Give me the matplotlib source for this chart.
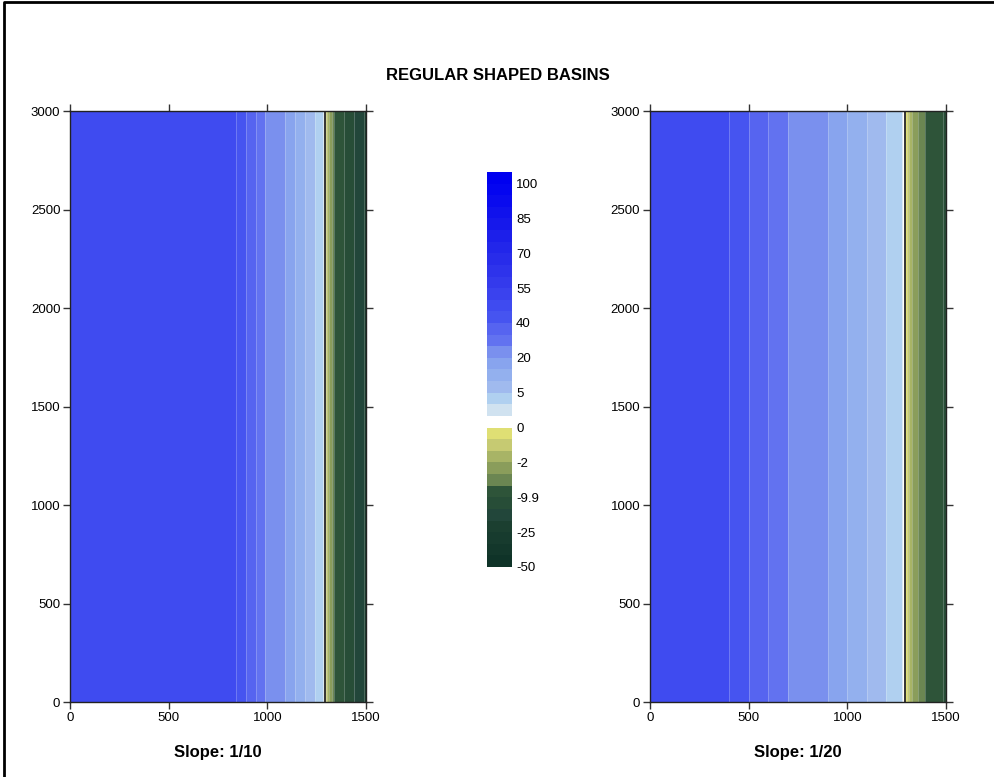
import numpy as np
import matplotlib
matplotlib.use("Agg")
import matplotlib.pyplot as plt
from matplotlib.colors import ListedColormap, BoundaryNorm
from matplotlib.cm import ScalarMappable
from matplotlib.lines import Line2D

plt.rcParams['font.family'] = ['Liberation Sans', 'DejaVu Sans']

# depth contour levels (m, positive = water, negative = land) and fill colours
levels = [-50, -40, -30, -25, -20, -15, -9.9, -5, -3.5, -2, -1, -0.5,
          0, 0.5, 1, 5, 10, 15, 20, 30, 35, 40, 45, 50, 55, 60, 65, 70,
          75, 80, 85, 90, 95, 100, 110]
colors = ['#0F3328', '#13372B', '#173B2E', '#1B3F30', '#22463A', '#274D37',
          '#2E5439', '#6B8652', '#8A9D5B', '#A8B466', '#C6CA72', '#DFDF74',
          '#FFFFFF', '#D0E2F0', '#B0D0F0', '#A0BAEE', '#93B0EE', '#88A4EE',
          '#7A90EE', '#6272F0', '#5664F0', '#4654F0', '#3F4BF0', '#3A42EE',
          '#343AEC', '#2E33EB', '#282CEA', '#2226EA', '#1C1FEA', '#1618EB',
          '#1012EC', '#0A0BEE', '#0405F0', '#0000F0']
cbar_ticks = [100, 85, 70, 55, 40, 20, 5, 0, -2, -9.9, -25, -50]
cbar_labels = ['100', '85', '70', '55', '40', '20', '5', '0', '-2', '-9.9', '-25', '-50']

# cross-shore bathymetry bands: band edges along x (m) and depth in each band
x_edges_10 = [0, 840, 890, 940, 990, 1090, 1140, 1190, 1240, 1280, 1285, 1290,
              1295, 1300, 1310, 1325, 1340, 1389, 1440, 1490, 1500]
depth_10 = [48, 42.5, 37.5, 32.5, 25, 17.5, 12.5, 7.5, 3, 0.75, 0.25,
            -0.25, -0.75, -1.5, -2.75, -4.25, -7.5, -12.5, -17.5, -22.5]

x_edges_20 = [0, 400, 500, 600, 700, 900, 1000, 1100, 1195, 1275, 1282, 1290,
              1300, 1310, 1330, 1360, 1393, 1487, 1500]
depth_20 = [48, 42.5, 37.5, 32.5, 25, 17.5, 12.5, 7.5, 3, 0.75, 0.25,
            -0.25, -0.75, -1.5, -2.75, -4.25, -7.5, -10.5]

y_edges = [0, 3000]
panels = [(x_edges_10, depth_10, 'Slope: 1/10'),
          (x_edges_20, depth_20, 'Slope: 1/20')]

cmap = ListedColormap(colors)
norm = BoundaryNorm(levels, ncolors=len(colors))

fig = plt.figure(figsize=(9.95, 7.77), dpi=100)
# frame lines along the left and top of the page
fig.lines.append(Line2D([0.004, 0.004, 1.0], [0.0, 0.997, 0.997],
                        transform=fig.transFigure, color='black', linewidth=2))

fig.text(0.5, 0.903, 'REGULAR SHAPED BASINS', ha='center', va='center',
         fontsize=12, fontweight='bold')

axes_pos = [[0.0704, 0.0965, 0.2975, 0.7606],
            [0.6533, 0.0965, 0.2975, 0.7606]]

for pos, (xe, dep, label) in zip(axes_pos, panels):
    ax = fig.add_axes(pos)
    z = np.array(dep)[None, :]
    ax.pcolormesh(xe, y_edges, z, cmap=cmap, norm=norm,
                  edgecolors=(1, 1, 1, 0.22), linewidth=0.7)
    # coastline: where depth changes sign
    sign_change = np.where(np.diff(np.sign(dep)) != 0)[0][0] + 1
    ax.axvline(xe[sign_change], color='#333333', linewidth=1.4)
    ax.set_xlim(0, 1500)
    ax.set_ylim(0, 3000)
    ax.set_xticks([0, 500, 1000, 1500])
    ax.set_yticks([0, 500, 1000, 1500, 2000, 2500, 3000])
    ax.tick_params(direction='out', length=5, width=1, color='#333333',
                   top=True, right=True, labelsize=9.5, pad=2)
    for sp in ax.spines.values():
        sp.set_color('#222222')
        sp.set_linewidth(1)
    ax.text(0.5, -0.085, label, transform=ax.transAxes, ha='center', va='center',
            fontsize=12, fontweight='bold')

cax = fig.add_axes([0.4894, 0.2703, 0.0251, 0.5084])
sm = ScalarMappable(norm=norm, cmap=cmap)
cb = fig.colorbar(sm, cax=cax, spacing='uniform', ticks=cbar_ticks, drawedges=False)
cb.set_ticklabels(cbar_labels)
cb.outline.set_visible(False)
cax.minorticks_off()
cax.tick_params(which='both', length=0, labelsize=9.5, pad=3)

fig.savefig('out.png', dpi=100)
